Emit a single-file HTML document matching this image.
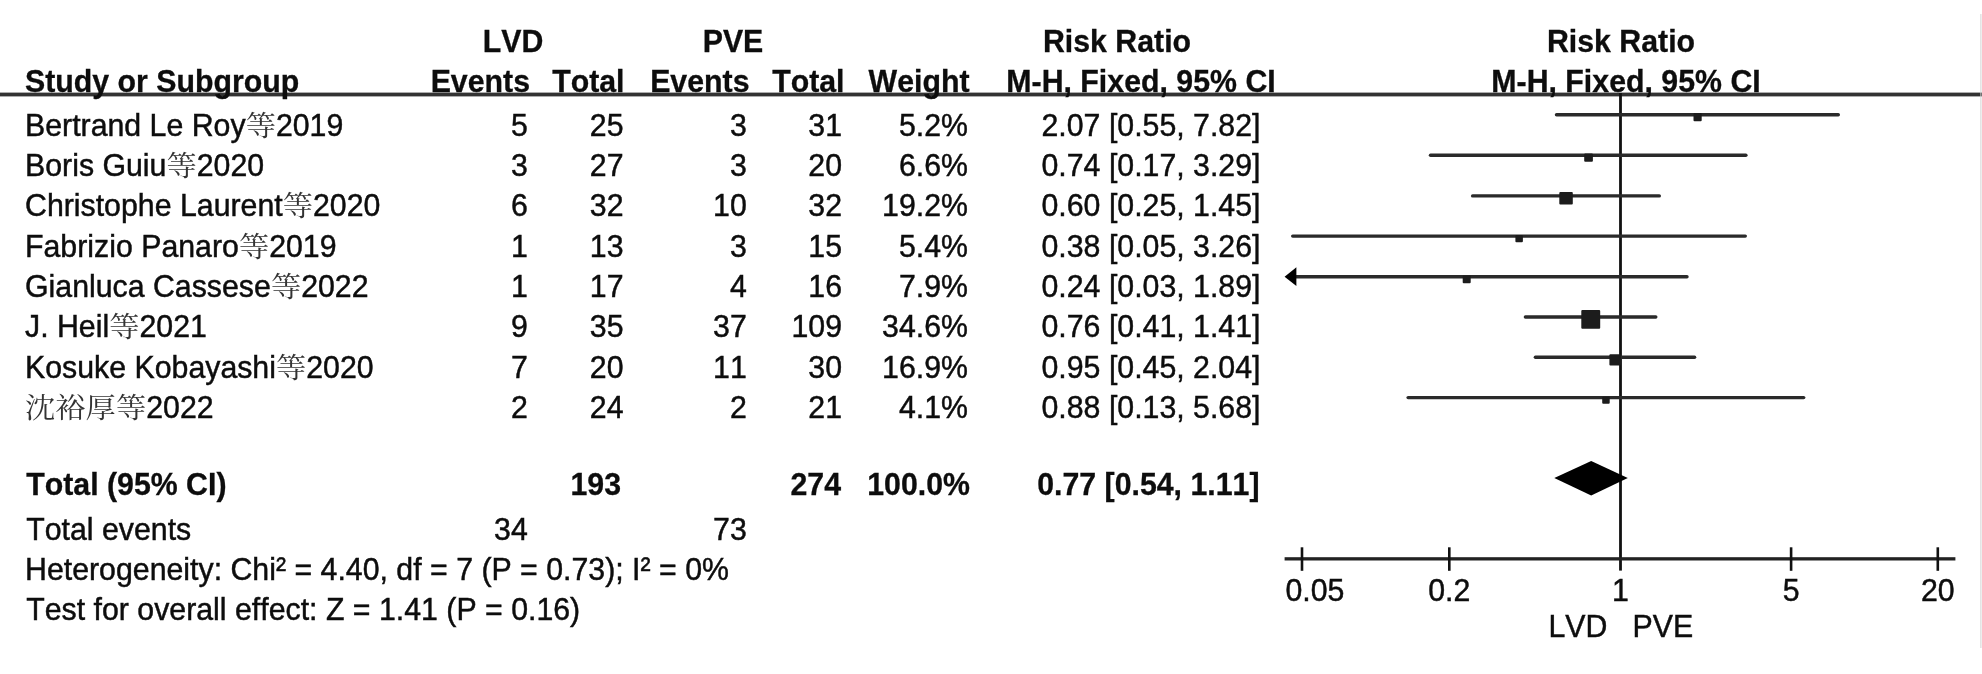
<!DOCTYPE html>
<html lang="en"><head><meta charset="utf-8"><title>Forest plot: LVD vs PVE</title>
<style>
html,body{margin:0;padding:0;background:#fff;}
body{filter:blur(0.45px);width:1982px;height:674px;position:relative;overflow:hidden;font-family:"Liberation Sans","Noto Serif CJK SC",sans-serif;}
.t{transform:scaleY(1.05);transform-origin:50% 30.50px;position:absolute;white-space:pre;font-size:30.3px;line-height:40px;height:40px;color:#0d0d0d;font-kerning:none;font-variant-ligatures:none;}
.t{-webkit-text-stroke:0.45px #0d0d0d;}
.b{font-weight:bold;-webkit-text-stroke:0.3px #0d0d0d;}
.cj{font-family:"Noto Serif CJK SC","Liberation Sans",serif;font-weight:400;line-height:0;color:#333;-webkit-text-stroke:0;display:inline-block;transform:translateY(1.5px) scaleY(0.88);transform-origin:50% 62%;}
svg{position:absolute;left:0;top:0;}
</style></head><body>
<svg width="1982" height="674" viewBox="0 0 1982 674">
<rect x="0" y="92.6" width="1982" height="3.8" fill="#333"/>
<rect x="1619.1" y="93" width="2.8" height="477.6" fill="#111"/>
<rect x="1284.6" y="557.2" width="670.8" height="3.3" fill="#222"/>
<rect x="1300.7" y="547.3" width="2.6" height="23.5" fill="#111"/>
<rect x="1448.0" y="547.3" width="2.6" height="23.5" fill="#111"/>
<rect x="1789.8" y="547.3" width="2.6" height="23.5" fill="#111"/>
<rect x="1936.5" y="547.3" width="2.6" height="23.5" fill="#111"/>
<rect x="1554.8" y="113.1" width="285.2" height="3.4" rx="1.7" fill="#2a2a2a"/>
<rect x="1693.5" y="113.0" width="8.2" height="8.3" rx="1" fill="#1c1c1c"/>
<rect x="1428.8" y="153.6" width="318.8" height="3.4" rx="1.7" fill="#2a2a2a"/>
<rect x="1584.2" y="153.5" width="8.7" height="8.3" rx="1" fill="#1c1c1c"/>
<rect x="1470.9" y="194.2" width="190.1" height="3.4" rx="1.7" fill="#2a2a2a"/>
<rect x="1559.3" y="192.0" width="13.5" height="12.5" rx="1" fill="#1c1c1c"/>
<rect x="1291.0" y="234.4" width="456.0" height="3.4" rx="1.7" fill="#2a2a2a"/>
<rect x="1515.4" y="235.0" width="7.5" height="7.2" rx="1" fill="#1c1c1c"/>
<rect x="1292.0" y="275.0" width="396.7" height="3.4" rx="1.7" fill="#2a2a2a"/>
<rect x="1462.7" y="275.5" width="8.0" height="7.8" rx="1" fill="#1c1c1c"/>
<rect x="1523.7" y="315.3" width="133.8" height="3.4" rx="1.7" fill="#2a2a2a"/>
<rect x="1581.3" y="310.1" width="18.9" height="18.6" rx="1" fill="#1c1c1c"/>
<rect x="1533.7" y="355.5" width="162.6" height="3.4" rx="1.7" fill="#2a2a2a"/>
<rect x="1609.4" y="354.2" width="11.6" height="11.2" rx="1" fill="#1c1c1c"/>
<rect x="1406.4" y="395.9" width="399.0" height="3.4" rx="1.7" fill="#2a2a2a"/>
<rect x="1602.2" y="396.7" width="7.5" height="7.1" rx="1" fill="#1c1c1c"/>
<rect x="1980.4" y="14" width="1" height="634" fill="#d2d2d2"/>
<polygon points="1284.6,276.7 1296.4,267.3 1296.4,286.1" fill="#000"/>
<polygon points="1554.3,478 1591.2,461 1627.8,478 1591.2,495.5" fill="#000"/>
</svg>
<div class="t b" style="top:21.90px;left:513.00px;transform:translateX(-50%) scaleY(1.05);">LVD</div>
<div class="t b" style="top:21.90px;left:733.00px;transform:translateX(-50%) scaleY(1.05);">PVE</div>
<div class="t b" style="top:21.90px;left:1117.00px;transform:translateX(-50%) scaleY(1.05);">Risk Ratio</div>
<div class="t b" style="top:21.90px;left:1621.00px;transform:translateX(-50%) scaleY(1.05);">Risk Ratio</div>
<div class="t b" style="top:62.20px;left:25.00px;">Study or Subgroup</div>
<div class="t b" style="top:62.20px;right:1452.00px;">Events</div>
<div class="t b" style="top:62.20px;right:1357.50px;">Total</div>
<div class="t b" style="top:62.20px;right:1232.50px;">Events</div>
<div class="t b" style="top:62.20px;right:1137.50px;">Total</div>
<div class="t b" style="top:62.20px;right:1012.50px;">Weight</div>
<div class="t b" style="top:62.20px;left:1141.00px;transform:translateX(-50%) scaleY(1.05);">M-H, Fixed, 95% CI</div>
<div class="t b" style="top:62.20px;left:1626.00px;transform:translateX(-50%) scaleY(1.05);">M-H, Fixed, 95% CI</div>
<div class="t" style="top:105.70px;left:25.00px;">Bertrand Le Roy<span class="cj">等</span>2019</div>
<div class="t" style="top:105.70px;right:1454.20px;">5</div>
<div class="t" style="top:105.70px;right:1358.50px;">25</div>
<div class="t" style="top:105.70px;right:1235.20px;">3</div>
<div class="t" style="top:105.70px;right:1140.00px;">31</div>
<div class="t" style="top:105.70px;right:1014.00px;">5.2%</div>
<div class="t" style="top:105.70px;right:721.50px;">2.07 [0.55, 7.82]</div>
<div class="t" style="top:146.00px;left:25.00px;">Boris Guiu<span class="cj">等</span>2020</div>
<div class="t" style="top:146.00px;right:1454.20px;">3</div>
<div class="t" style="top:146.00px;right:1358.50px;">27</div>
<div class="t" style="top:146.00px;right:1235.20px;">3</div>
<div class="t" style="top:146.00px;right:1140.00px;">20</div>
<div class="t" style="top:146.00px;right:1014.00px;">6.6%</div>
<div class="t" style="top:146.00px;right:721.50px;">0.74 [0.17, 3.29]</div>
<div class="t" style="top:186.30px;left:25.00px;">Christophe Laurent<span class="cj">等</span>2020</div>
<div class="t" style="top:186.30px;right:1454.20px;">6</div>
<div class="t" style="top:186.30px;right:1358.50px;">32</div>
<div class="t" style="top:186.30px;right:1235.20px;">10</div>
<div class="t" style="top:186.30px;right:1140.00px;">32</div>
<div class="t" style="top:186.30px;right:1014.00px;">19.2%</div>
<div class="t" style="top:186.30px;right:721.50px;">0.60 [0.25, 1.45]</div>
<div class="t" style="top:226.60px;left:25.00px;">Fabrizio Panaro<span class="cj">等</span>2019</div>
<div class="t" style="top:226.60px;right:1454.20px;">1</div>
<div class="t" style="top:226.60px;right:1358.50px;">13</div>
<div class="t" style="top:226.60px;right:1235.20px;">3</div>
<div class="t" style="top:226.60px;right:1140.00px;">15</div>
<div class="t" style="top:226.60px;right:1014.00px;">5.4%</div>
<div class="t" style="top:226.60px;right:721.50px;">0.38 [0.05, 3.26]</div>
<div class="t" style="top:266.90px;left:25.00px;">Gianluca Cassese<span class="cj">等</span>2022</div>
<div class="t" style="top:266.90px;right:1454.20px;">1</div>
<div class="t" style="top:266.90px;right:1358.50px;">17</div>
<div class="t" style="top:266.90px;right:1235.20px;">4</div>
<div class="t" style="top:266.90px;right:1140.00px;">16</div>
<div class="t" style="top:266.90px;right:1014.00px;">7.9%</div>
<div class="t" style="top:266.90px;right:721.50px;">0.24 [0.03, 1.89]</div>
<div class="t" style="top:307.20px;left:25.00px;">J. Heil<span class="cj">等</span>2021</div>
<div class="t" style="top:307.20px;right:1454.20px;">9</div>
<div class="t" style="top:307.20px;right:1358.50px;">35</div>
<div class="t" style="top:307.20px;right:1235.20px;">37</div>
<div class="t" style="top:307.20px;right:1140.00px;">109</div>
<div class="t" style="top:307.20px;right:1014.00px;">34.6%</div>
<div class="t" style="top:307.20px;right:721.50px;">0.76 [0.41, 1.41]</div>
<div class="t" style="top:347.50px;left:25.00px;">Kosuke Kobayashi<span class="cj">等</span>2020</div>
<div class="t" style="top:347.50px;right:1454.20px;">7</div>
<div class="t" style="top:347.50px;right:1358.50px;">20</div>
<div class="t" style="top:347.50px;right:1235.20px;">11</div>
<div class="t" style="top:347.50px;right:1140.00px;">30</div>
<div class="t" style="top:347.50px;right:1014.00px;">16.9%</div>
<div class="t" style="top:347.50px;right:721.50px;">0.95 [0.45, 2.04]</div>
<div class="t" style="top:387.80px;left:25.00px;"><span class="cj">沈裕厚等</span>2022</div>
<div class="t" style="top:387.80px;right:1454.20px;">2</div>
<div class="t" style="top:387.80px;right:1358.50px;">24</div>
<div class="t" style="top:387.80px;right:1235.20px;">2</div>
<div class="t" style="top:387.80px;right:1140.00px;">21</div>
<div class="t" style="top:387.80px;right:1014.00px;">4.1%</div>
<div class="t" style="top:387.80px;right:721.50px;">0.88 [0.13, 5.68]</div>
<div class="t b" style="top:465.40px;left:26.20px;">Total (95% CI)</div>
<div class="t b" style="top:465.40px;right:1361.00px;">193</div>
<div class="t b" style="top:465.40px;right:1141.00px;">274</div>
<div class="t b" style="top:465.40px;right:1012.00px;">100.0%</div>
<div class="t b" style="top:465.40px;right:722.50px;">0.77 [0.54, 1.11]</div>
<div class="t" style="top:509.70px;left:26.20px;">Total events</div>
<div class="t" style="top:509.70px;right:1454.20px;">34</div>
<div class="t" style="top:509.70px;right:1235.20px;">73</div>
<div class="t" style="top:550.20px;left:25.00px;">Heterogeneity: Chi² = 4.40, df = 7 (P = 0.73); I² = 0%</div>
<div class="t" style="top:590.30px;left:26.20px;">Test for overall effect: Z = 1.41 (P = 0.16)</div>
<div class="t" style="top:570.60px;left:1285.50px;">0.05</div>
<div class="t" style="top:570.60px;left:1449.30px;transform:translateX(-50%) scaleY(1.05);">0.2</div>
<div class="t" style="top:570.60px;left:1620.40px;transform:translateX(-50%) scaleY(1.05);">1</div>
<div class="t" style="top:570.60px;left:1791.20px;transform:translateX(-50%) scaleY(1.05);">5</div>
<div class="t" style="top:570.60px;left:1937.80px;transform:translateX(-50%) scaleY(1.05);">20</div>
<div class="t" style="top:607.10px;right:374.60px;">LVD</div>
<div class="t" style="top:607.10px;left:1632.60px;">PVE</div>
</body></html>
